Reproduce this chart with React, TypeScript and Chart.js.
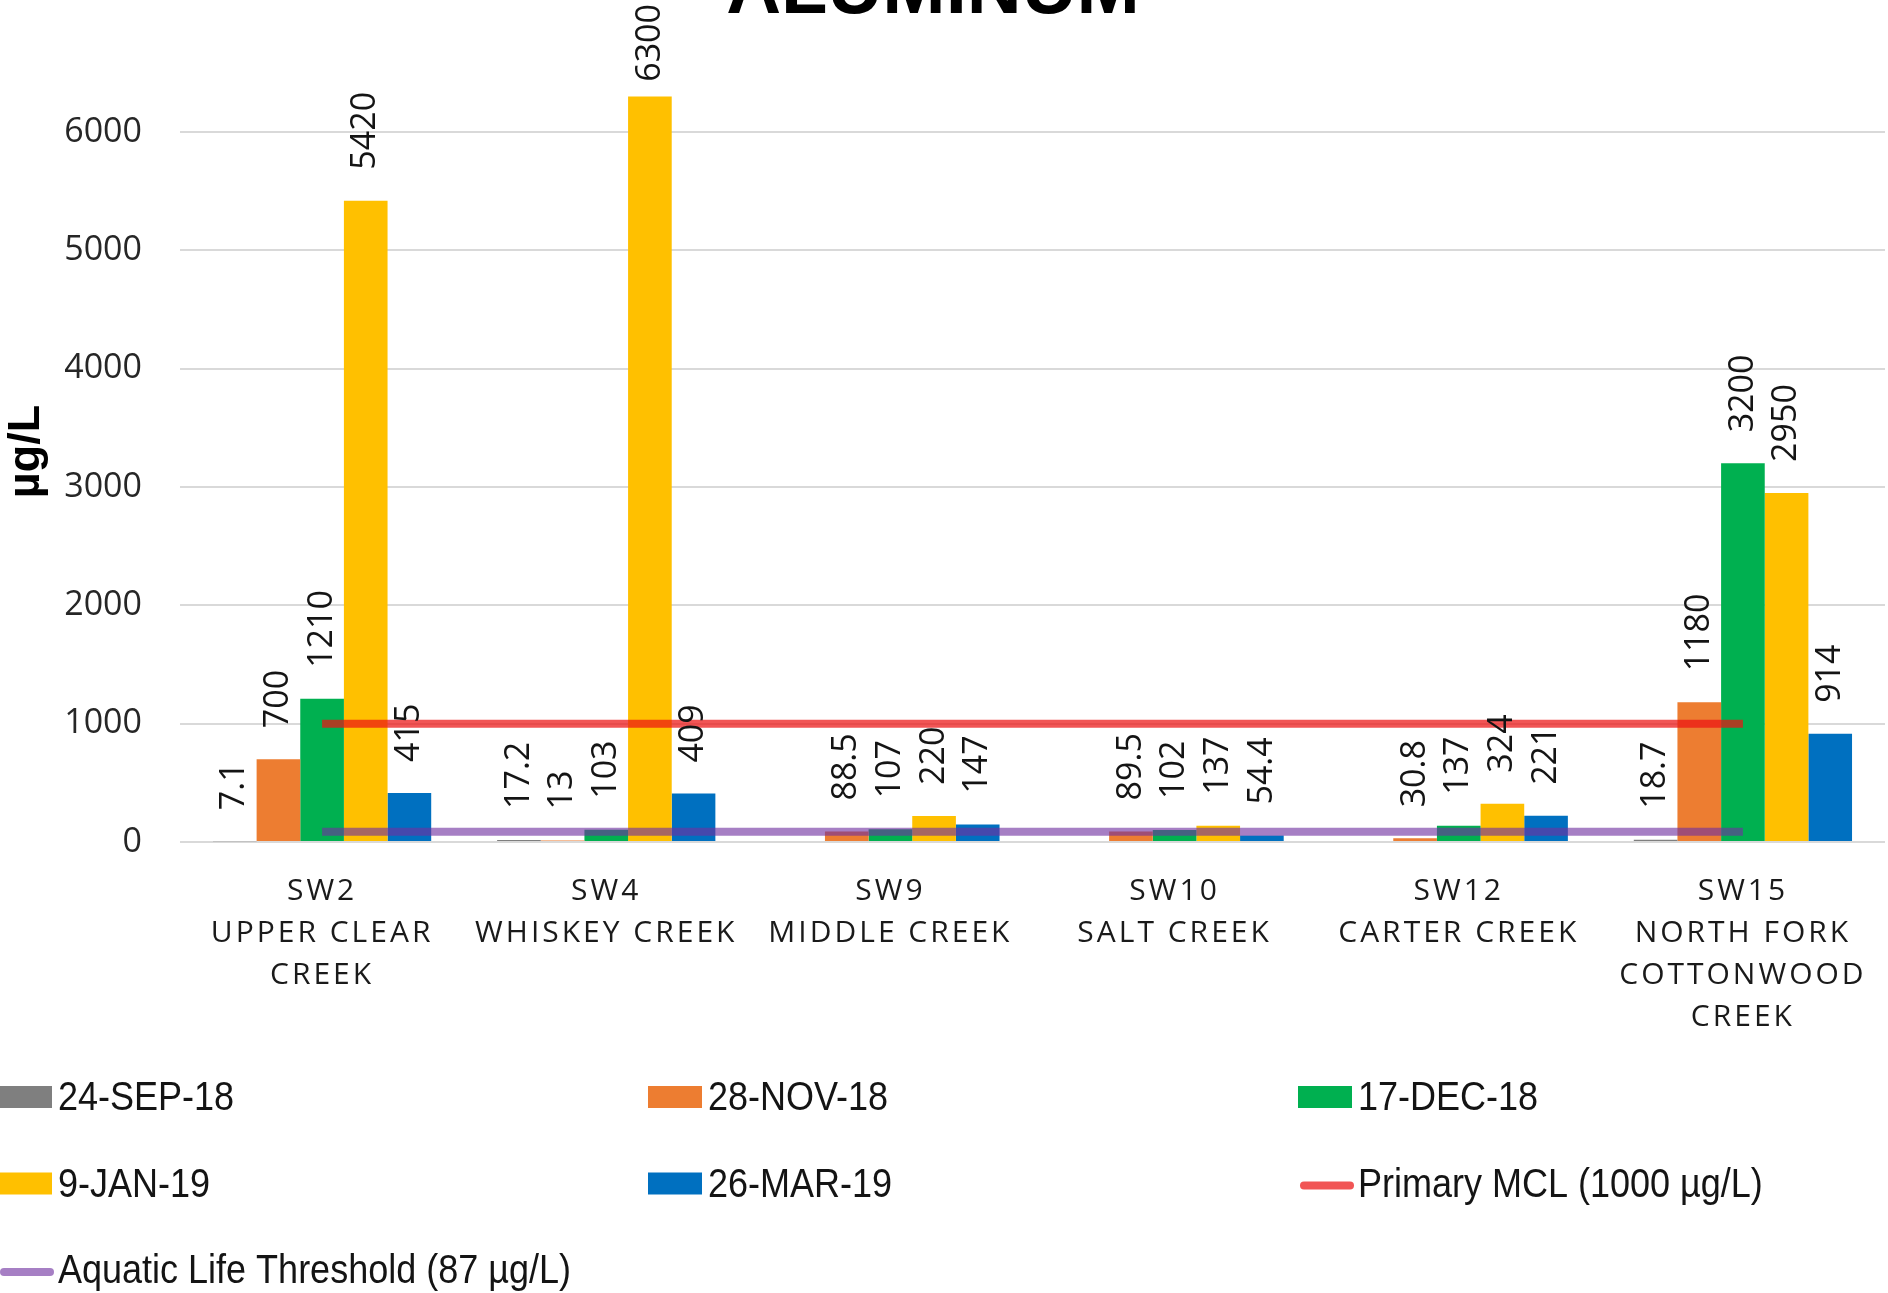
import React, { useEffect, useRef } from 'react';
import { Chart, registerables, CategoryScale } from 'chart.js';

Chart.register(...registerables);

// ---------- data ----------
const categories: string[][] = [
  ['SW2', 'UPPER CLEAR', 'CREEK'],
  ['SW4', 'WHISKEY CREEK'],
  ['SW9', 'MIDDLE CREEK'],
  ['SW10', 'SALT CREEK'],
  ['SW12', 'CARTER CREEK'],
  ['SW15', 'NORTH FORK', 'COTTONWOOD', 'CREEK'],
];
const sep24: (number | null)[] = [7.1, 17.2, null, null, null, 18.7];
const nov28: number[] = [700, 13, 88.5, 89.5, 30.8, 1180];
const dec17: number[] = [1210, 103, 107, 102, 137, 3200];
const jan9: number[] = [5420, 6300, 220, 137, 324, 2950];
const mar26: number[] = [415, 409, 147, 54.4, 221, 914];
const primaryMcl: number[] = [1000, 1000, 1000, 1000, 1000, 1000];
const aquaticLife: number[] = [87, 87, 87, 87, 87, 87];
const yTickValues: number[] = [0, 1000, 2000, 3000, 4000, 5000, 6000];
const chartTitle = 'ALUMINUM';
const yAxisTitle = 'µg/L';

// ---------- styles ----------
const W = 1888;
const H = 1293;
const OPEN = "'Open Sans', 'Liberation Sans', sans-serif";
const SANS = "'Liberation Sans', Arial, sans-serif";

class SpacedCategoryScale extends CategoryScale {
  static id = 'spacedCategory';
  static defaults = CategoryScale.defaults;
  drawLabels(chartArea: any) {
    const ctx: any = this.ctx;
    ctx.save();
    ctx.letterSpacing = '3px';
    super.drawLabels(chartArea);
    ctx.restore();
  }
}
Chart.register(SpacedCategoryScale as any);

const titlePlugin = {
  id: 'cutTitle',
  afterDraw(chart: any) {
    const ctx = chart.ctx;
    ctx.save();
    ctx.font = `bold 76px ${SANS}`;
    ctx.fillStyle = '#000';
    ctx.textAlign = 'center';
    ctx.textBaseline = 'alphabetic';
    ctx.fillText(chartTitle, 933, 13);
    ctx.restore();
  },
};

const barLabelPlugin = {
  id: 'barLabels',
  afterDatasetsDraw(chart: any) {
    const ctx = chart.ctx;
    ctx.save();
    ctx.font = `34px ${OPEN}`;
    ctx.fillStyle = '#141414';
    ctx.textAlign = 'left';
    ctx.textBaseline = 'middle';
    chart.data.datasets.forEach((ds: any, i: number) => {
      if (ds.type === 'line') return;
      const meta = chart.getDatasetMeta(i);
      meta.data.forEach((el: any, j: number) => {
        const v = ds.data[j];
        if (v === null || v === undefined) return;
        const text = String(v);
        const w = ctx.measureText(text).width;
        let start = el.y - 31;
        if (start - w < 4) start = w + 4;
        ctx.save();
        ctx.translate(el.x, start);
        ctx.rotate(-Math.PI / 2);
        ctx.fillText(text, 0, 0);
        ctx.restore();
      });
    });
    ctx.restore();
  },
};

const legendPlugin = {
  id: 'gridLegend',
  afterDraw(chart: any) {
    const ctx = chart.ctx;
    ctx.save();
    ctx.font = `40px ${SANS}`;
    ctx.textAlign = 'left';
    ctx.textBaseline = 'middle';
    chart.data.datasets.forEach((ds: any, i: number) => {
      const col = i % 3;
      const row = Math.floor(i / 3);
      const x = -2 + col * 650;
      const y = 1097 + row * 86.5;
      if (ds.type === 'line') {
        ctx.strokeStyle = ds.borderColor;
        ctx.lineWidth = 8;
        ctx.lineCap = 'round';
        ctx.beginPath();
        ctx.moveTo(x + 6, y + 2);
        ctx.lineTo(x + 52, y + 2);
        ctx.stroke();
      } else {
        ctx.fillStyle = ds.backgroundColor;
        ctx.fillRect(x, y - 11, 54, 22);
      }
      // condensed rendering of the legend text
      ctx.save();
      ctx.translate(x + 60, y + 2);
      ctx.scale(0.9, 1);
      ctx.fillStyle = '#141414';
      ctx.fillText(ds.label, 0, 0);
      ctx.restore();
    });
    ctx.restore();
  },
};

export default function App() {
  const canvasRef = useRef<HTMLCanvasElement | null>(null);

  useEffect(() => {
    document.body.style.margin = '0';
    const canvas = canvasRef.current;
    if (!canvas) return;
    const chart = new Chart(canvas, {
      type: 'bar',
      data: {
        labels: categories as any,
        datasets: [
          { label: '24-SEP-18', data: sep24, backgroundColor: '#7F7F7F', order: 1 },
          { label: '28-NOV-18', data: nov28, backgroundColor: '#ED7D31', order: 1 },
          { label: '17-DEC-18', data: dec17, backgroundColor: '#00B050', order: 1 },
          { label: '9-JAN-19', data: jan9, backgroundColor: '#FFC000', order: 1 },
          { label: '26-MAR-19', data: mar26, backgroundColor: '#0070C0', order: 1 },
          {
            type: 'line',
            label: 'Primary MCL (1000 µg/L)',
            data: primaryMcl,
            borderColor: 'rgba(235, 20, 20, 0.72)',
            borderWidth: 8,
            pointRadius: 0,
            fill: false,
            order: 0,
          },
          {
            type: 'line',
            label: 'Aquatic Life Threshold (87 µg/L)',
            data: aquaticLife,
            borderColor: 'rgba(112, 48, 160, 0.62)',
            borderWidth: 8,
            pointRadius: 0,
            fill: false,
            order: 0,
          },
        ] as any,
      },
      options: {
        responsive: false,
        animation: false,
        events: [],
        layout: { padding: { top: 61, right: 3, bottom: 0, left: 0 } },
        datasets: { bar: { categoryPercentage: 0.768, barPercentage: 1 } },
        plugins: {
          legend: { display: false },
          tooltip: { enabled: false },
          title: { display: false },
        },
        scales: {
          x: {
            type: 'spacedCategory' as any,
            offset: true,
            grid: { display: false, offset: true },
            border: { display: false },
            ticks: {
              autoSkip: false,
              maxRotation: 0,
              minRotation: 0,
              padding: 20,
              color: '#1a1a1a',
              font: { family: OPEN, size: 30, lineHeight: 1.4 },
            },
            afterFit: (s: any) => {
              s.height = H - 842;
            },
          },
          y: {
            min: 0,
            max: 6600,
            afterBuildTicks: (axis: any) => {
              axis.ticks = yTickValues.map((v) => ({ value: v }));
            },
            ticks: {
              padding: 38,
              color: '#262626',
              font: { family: OPEN, size: 34 },
              callback: (v: any) => String(v),
            },
            grid: { color: '#D9D9D9', lineWidth: 2, drawTicks: false },
            border: { display: false },
            title: {
              display: true,
              text: yAxisTitle,
              color: '#000',
              font: { family: SANS, size: 45, weight: 'bold' },
              padding: { top: 0, bottom: 0 },
            },
            afterFit: (s: any) => {
              s.width = 180;
            },
          },
        },
      } as any,
      plugins: [titlePlugin, barLabelPlugin, legendPlugin],
    });
    return () => chart.destroy();
  }, []);

  return (
    <div style={{ width: W, height: H, background: '#fff' }}>
      <style>{'body{margin:0}'}</style>
      <canvas ref={canvasRef} width={W} height={H} style={{ display: 'block' }} />
    </div>
  );
}
